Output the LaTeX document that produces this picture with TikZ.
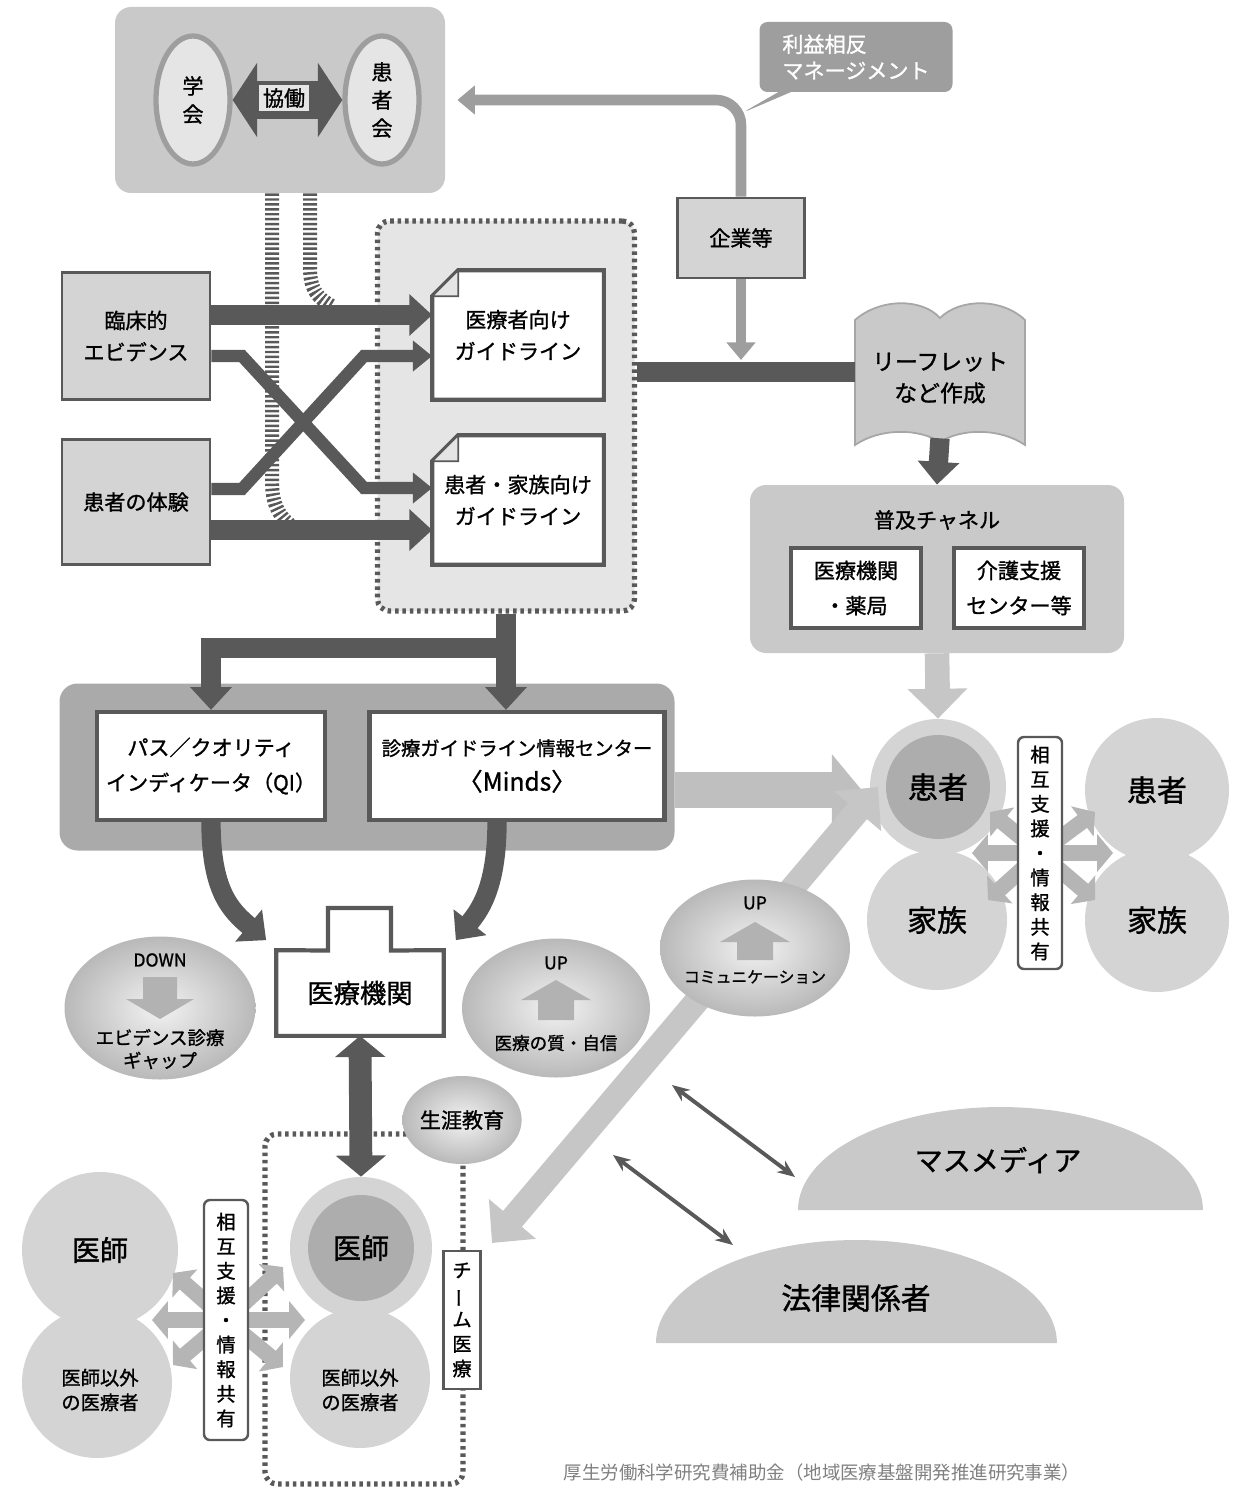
\documentclass[tikz,border=0pt]{standalone}
\usepackage{fontspec}
\usepackage{graphicx}
\setmainfont{Noto Sans CJK JP}[FakeBold=1.2]
\newfontfamily\plainjp{Noto Sans CJK JP}
\usetikzlibrary{arrows.meta,shapes.geometric,shapes.callouts,calc}
\newlength\pxl
\setlength\pxl{0.02cm}
\definecolor{dgray}{gray}{0.35}
\definecolor{mgray}{gray}{0.62}
\definecolor{pgray}{gray}{0.68}
\definecolor{lgray}{gray}{0.79}
\definecolor{cgray}{gray}{0.83}
\definecolor{vlgray}{gray}{0.9}
\newcommand\fs[2]{\fontsize{#1}{#2}\selectfont}
\tikzset{
  panel/.style={fill=lgray, rounded corners=16\pxl, inner sep=0pt},
  graybox/.style={draw=dgray, line width=1.6pt, fill=cgray, align=center, inner sep=0pt},
  whitebox/.style={draw=dgray, line width=2.4pt, fill=white, align=center, inner sep=0pt},
  socell/.style={ellipse, draw=mgray, line width=3pt, fill=vlgray, minimum width=74\pxl, minimum height=128\pxl, align=center, inner sep=0pt, font=\fs{12}{16}},
  fat/.style={draw=dgray, line width=11pt, -{Triangle[length=13pt,width=23pt]}},
  thinfat/.style={draw=dgray, line width=7pt, -{Triangle[length=11pt,width=17pt]}},
  bar/.style={draw=dgray, line width=11.5pt},
  light/.style={draw=mgray, line width=6pt, -{Triangle[length=10pt,width=16pt]}},
  bigarrow/.style={draw=gray!50, line width=20pt, -{Triangle[length=17pt,width=40pt]}},
  chanarrow/.style={draw=gray!45, line width=14pt, -{Triangle[length=17pt,width=33pt]}},
  duoarrow/.style={draw=gray!45, line width=14pt, {Triangle[length=18pt,width=34pt]}-{Triangle[length=18pt,width=34pt]}},
  darkduo/.style={draw=dgray, line width=13pt, {Triangle[length=12pt,width=28pt]}-{Triangle[length=12pt,width=28pt]}},
  stararrow/.style={draw=gray!58, line width=9pt, -{Triangle[length=9pt,width=21pt]}},
  stripe/.style={draw=dgray, line width=14\pxl, dash pattern=on 1.4pt off 1.4pt},
  dotbox/.style={draw=dgray, line width=3pt, dash pattern=on 2pt off 2.2pt, rounded corners=12\pxl, inner sep=0pt},
  circ/.style={circle, fill=cgray, inner sep=0pt, minimum size=#1\pxl},
  ellsh/.style={ellipse, inner sep=0pt, inner color=gray!10, outer color=gray!55},
  vbox/.style={draw=dgray, line width=1.4pt, fill=white, rounded corners=6\pxl, align=center, inner sep=0pt, minimum width=44\pxl, font=\fs{11}{14}},
  thinarr/.style={draw=dgray, line width=2.2pt, {Stealth[length=10pt,width=8pt]}-{Stealth[length=10pt,width=8pt]}},
  doc/.style={minimum width=171\pxl, minimum height=129\pxl, inner sep=0pt},
  blockarrow/.style={fill=gray!60}
}
\begin{document}
\begin{tikzpicture}[x=0.02cm, y=-0.02cm, font=\fs{12}{16}, line join=miter]
\useasboundingbox (0,0) rectangle (1233,1490);
% society
\node[panel, minimum width=330\pxl, minimum height=186\pxl] (soc) at (280,100) {};
\node[socell] (gak) at (193,100) {学\\会};
\node[socell] (kan) at (382,100) {患\\者\\会};
\draw[draw=dgray, line width=22pt, {Triangle[length=14pt,width=42pt]}-{Triangle[length=14pt,width=42pt]}] (gak) -- (kan);
\node[fill=vlgray, inner sep=2pt] (kyo) at (284,98) {協働};
\node[rectangle callout, fill=mgray, text=white, rounded corners=8\pxl, minimum width=193\pxl, minimum height=70\pxl, align=left, font=\fs{12}{15}, callout absolute pointer={(742,113)}] (coi) at (856,57) {利益相反\\マネージメント};
\node[graybox, minimum width=127\pxl, minimum height=80\pxl] (kig) at (741,238) {企業等};
\draw[light, rounded corners=25\pxl, shorten >=12\pxl] (kig.north) |- (soc.east);
\draw[stripe] (soc.south -| 272,0) -- (272,482) .. controls (272,508) and (282,522) .. (302,532);
\draw[stripe] (soc.south -| 310,0) -- (310,268) .. controls (310,290) and (318,298) .. (332,306);
% guidelines
\node[dotbox, fill=vlgray, minimum width=257\pxl, minimum height=390\pxl] (grp) at (506,416) {};
\path node[doc] (gl1) at (518,335) {} node[doc] (gl2) at (518,500) {};
\foreach \g in {gl1,gl2}{
  \filldraw[fill=white, draw=dgray, line width=2.4pt] ([yshift=-26\pxl]\g.north west) -- ([xshift=26\pxl]\g.north west) -- (\g.north east) -- (\g.south east) -- (\g.south west) -- cycle;
  \filldraw[fill=vlgray, draw=dgray, line width=1pt] ([xshift=26\pxl]\g.north west) -- ([xshift=26\pxl,yshift=-26\pxl]\g.north west) -- ([yshift=-26\pxl]\g.north west) -- cycle;
}
\node[align=center, font=\fs{12}{18}] (gl1t) at (gl1) {医療者向け\\ガイドライン};
\node[align=center, font=\fs{12}{18}] (gl2t) at (gl2) {患者・家族向け\\ガイドライン};
\node[graybox, minimum width=148\pxl, minimum height=127\pxl, font=\fs{12}{18}] (ev) at (136,336) {臨床的\\エビデンス};
\node[graybox, minimum width=148\pxl, minimum height=125\pxl] (exp) at (136,502) {患者の体験};
\draw[fat] (ev.east |- 0,315) -- (gl1.west |- 0,315);
\draw[thinfat] (ev.east |- 0,356) -- (242,356) -- (364,488) -- (gl2.west |- 0,488);
\draw[thinfat] (exp.east |- 0,489) -- (242,489) -- (364,356) -- (gl1.west |- 0,356);
\draw[fat] (exp.east |- 0,530) -- (gl2.west |- 0,530);
% leaflet and channel
\fill[lgray, draw=gray!70, line width=1pt] (855,320) .. controls (880,298) and (922,298) .. (940,318) .. controls (960,298) and (1002,298) .. (1025,320) -- (1025,445) .. controls (1000,428) and (962,428) .. (940,442) .. controls (918,428) and (880,428) .. (855,445) -- cycle;
\node[minimum width=170\pxl, minimum height=120\pxl, inner sep=0pt, align=center, font=\fs{13}{18}] (leaf) at (940,378) {リーフレット\\など作成};
\coordinate (jn) at (741,360);
\draw[bar] (grp.east |- 0,372) -- (leaf.west |- 0,372);
\draw[light] (kig.south) -- (jn);
\node[panel, minimum width=374\pxl, minimum height=168\pxl] (chan) at (937,569) {};
\draw[fat] (leaf.south) -- (chan.north);
\node (chant) at (937,520) {普及チャネル};
\node[whitebox, minimum width=130\pxl, minimum height=80\pxl, font=\fs{12}{20}] (iryo) at (856,588) {医療機関\\・薬局};
\node[whitebox, minimum width=130\pxl, minimum height=80\pxl, font=\fs{12}{20}] (kaigo) at (1019,588) {介護支援\\センター等};
% patients cluster
\node[circ=140] (f1) at (937,920) {};
\node[circ=144] (f2) at (1157,920) {};
\node[circ=144] (p2) at (1157,790) {};
\node[circ=136] (p1) at (938,787) {};
\node[circ=104, fill=pgray] (p1in) at (938,787) {};
\node[font=\fs{17}{20}] at (p1) {患者};
\node[font=\fs{17}{20}] at (f1) {家族};
\node[font=\fs{17}{20}] at (p2) {患者};
\node[font=\fs{17}{20}] at (f2) {家族};
\coordinate (hub1) at (1040,853);
\foreach \tx/\ty in {972/853, 990/812, 988/900, 1113/853, 1095/812, 1095/900}
  \draw[stararrow] (hub1) -- (\tx,\ty);
\node[vbox, minimum height=232\pxl] (mut1) at (hub1) {相\\互\\支\\援\\・\\情\\報\\共\\有};
\draw[chanarrow] (chan.south) -- (p1.north);
% QI / Minds
\coordinate (split) at (506,648);
\node[panel, fill=gray!67, rounded corners=18\pxl, minimum width=615\pxl, minimum height=167\pxl] (qip) at (367,767) {};
\node[whitebox, minimum width=228\pxl, minimum height=108\pxl, font=\fs{12}{20}] (qi) at (211,766) {パス／クオリティ\\インディケータ（QI）};
\node[whitebox, minimum width=295\pxl, minimum height=108\pxl, font=\fs{11}{20}] (minds) at (517,766) {診療ガイドライン情報センター\\{\fs{14}{20}〈Minds〉}};
\draw[fat] (grp.south) -- (grp.south |- minds.north);
\draw[fat] (split) -| (qi.north);
\draw[bigarrow, shorten >=8\pxl] (qip.east |- 0,790) -- (p1.west |- 0,790);
% media and law
\fill[lgray] (798,1210) arc[start angle=180, end angle=0, x radius=4.05cm, y radius=2.06cm] -- cycle;
\node[font=\fs{16}{20}] (media) at (998,1160) {マスメディア};
\fill[lgray] (656,1343) arc[start angle=180, end angle=0, x radius=4.01cm, y radius=2.06cm] -- cycle;
\node[font=\fs{17}{20}] (law) at (856,1298) {法律関係者};
\coordinate (m1) at (672,1085);
\coordinate (m2) at (795,1177);
\coordinate (l1) at (613,1155);
\coordinate (l2) at (733,1245);
\draw[thinarr] (m1) -- (m2);
\draw[thinarr] (l1) -- (l2);
\coordinate (c1) at (492,1243);
\coordinate (c2) at (878,787);
\draw[duoarrow] (c1) -- (c2);
% effects
\node[ellsh, minimum width=191\pxl, minimum height=143\pxl] (down) at (160,1008) {};
\node[font=\fs{10}{12}] at (160,960) {DOWN};
\fill[blockarrow] ($(down)+(-17,-31)$) -- ++(34,0) -- ++(0,22) -- ++(17,0) -- ++(-34,20) -- ++(-34,-20) -- ++(17,0) -- cycle;
\node[align=center, font=\fs{10.5}{13}] (gap) at (160,1049) {エビデンス診療\\ギャップ};
\node[ellsh, minimum width=188\pxl, minimum height=139\pxl] (upq) at (556,1008) {};
\node[font=\fs{10}{12}] at (556,963) {UP};
\fill[blockarrow] ($(upq)+(0,-28)$) -- ++(35,20) -- ++(-17,0) -- ++(0,20) -- ++(-36,0) -- ++(0,-20) -- ++(-17,0) -- cycle;
\node[font=\fs{10}{12}] at (556,1043) {医療の質・自信};
\node[ellsh, minimum width=190\pxl, minimum height=137\pxl] (upc) at (755,948) {};
\node[font=\fs{10}{12}] at (755,903) {UP};
\fill[blockarrow] ($(upc)+(0,-26)$) -- ++(35,20) -- ++(-17,0) -- ++(0,18) -- ++(-36,0) -- ++(0,-18) -- ++(-17,0) -- cycle;
\node[font=\fs{9}{11}] at (755,977) {コミュニケーション};
% institution
\path node[minimum width=167\pxl, minimum height=85\pxl, inner sep=0pt] (kikan) at (360,993) {};
\filldraw[fill=white, draw=dgray, line width=2.4pt] (kikan.south west) -- (kikan.north west) -- (328,950.5) -- (328,908) -- (391,908) -- (391,950.5) -- (kikan.north east) -- (kikan.south east) -- cycle;
\node[font=\fs{15}{18}] (kikant) at (kikan) {医療機関};
\draw[fat] (qi.south) .. controls (211,890) and (230,910) .. ($(kikan.north west)+(-10,-10)$);
\draw[fat] ($(minds.south)+(-20,0)$) .. controls (497,890) and (478,912) .. ($(kikan.north east)+(12,-10)$);
% doctors cluster
\node[dotbox, minimum width=198\pxl, minimum height=350\pxl] (teamr) at (364,1309) {};
\node[circ=150] (o1) at (97,1383) {};
\node[circ=156] (d1) at (100,1250) {};
\node[circ=140] (o2) at (360,1378) {};
\node[circ=142] (d2) at (361,1248) {};
\node[circ=106, fill=pgray] (d2in) at (361,1248) {};
\node[font=\fs{16}{20}] at (d1) {医師};
\node[font=\fs{16}{20}] at (d2) {医師};
\node[align=center, font=\fs{11}{14}] at (100,1390) {医師以外\\の医療者};
\node[align=center, font=\fs{11}{14}] at (360,1390) {医師以外\\の医療者};
\coordinate (hub2) at (226,1320);
\foreach \tx/\ty in {152/1320, 173/1273, 173/1365, 305/1320, 283/1267, 283/1367}
  \draw[stararrow] (hub2) -- (\tx,\ty);
\node[vbox, minimum height=240\pxl] (mut2) at (hub2) {相\\互\\支\\援\\・\\情\\報\\共\\有};
\node[draw=dgray, line width=1.6pt, fill=white, minimum width=37\pxl, minimum height=138\pxl, inner sep=0pt, align=center, font=\fs{11}{14}] (team) at (462,1320) {チ\\\rotatebox[origin=c]{90}{ー}\\ム\\医\\療};
\node[ellsh, minimum width=116\pxl, minimum height=88\pxl] (edu) at (462,1120) {生涯教育};
\draw[darkduo] (kikan.south) -- (d2.north);
\node[text=gray, font=\plainjp\fs{10.5}{12}] (src) at (822,1472) {厚生労働科学研究費補助金（地域医療基盤開発推進研究事業）};
\end{tikzpicture}
\end{document}
